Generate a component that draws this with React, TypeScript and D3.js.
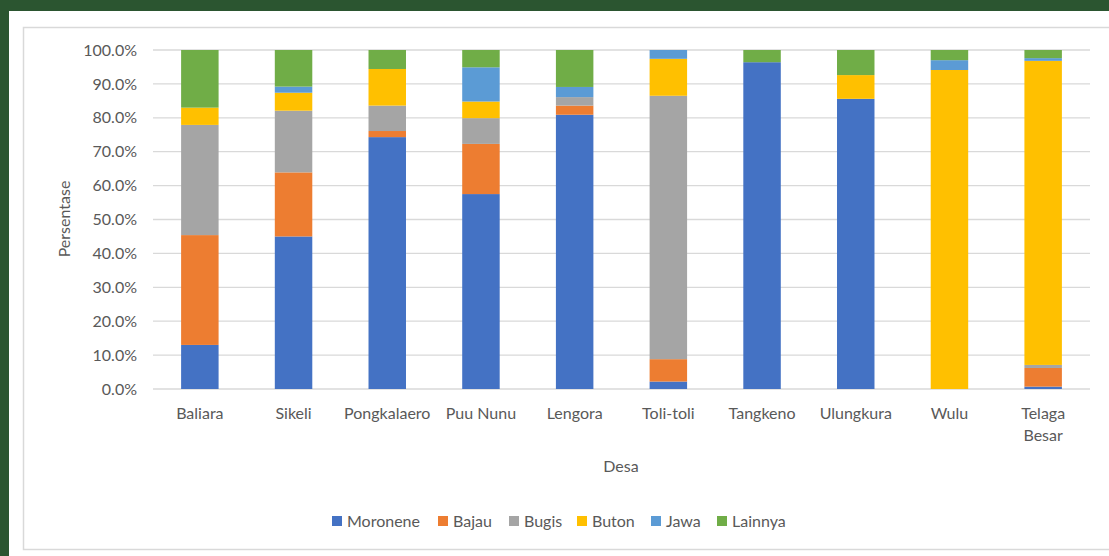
import * as d3 from "d3";
import React, { useEffect, useRef } from "react";

const desa = [
  "Baliara",
  "Sikeli",
  "Pongkalaero",
  "Puu Nunu",
  "Lengora",
  "Toli-toli",
  "Tangkeno",
  "Ulungkura",
  "Wulu",
  "Telaga Besar",
];

const suku = ["Moronene", "Bajau", "Bugis", "Buton", "Jawa", "Lainnya"];

// percentages per village
const moronene = [13.0, 45.0, 74.3, 57.5, 80.9, 2.2, 96.4, 85.6, 0.0, 0.7];
const bajau = [32.4, 18.9, 1.8, 14.8, 2.7, 6.6, 0.0, 0.0, 0.0, 5.5];
const bugis = [32.5, 18.2, 7.5, 7.6, 2.5, 77.7, 0.0, 0.0, 0.0, 0.9];
const buton = [5.1, 5.3, 10.8, 4.9, 0.0, 10.9, 0.0, 7.0, 94.1, 89.7];
const jawa = [0.0, 1.8, 0.0, 10.1, 3.0, 2.6, 0.0, 0.0, 2.9, 0.8];
const lainnya = [17.0, 10.8, 5.6, 5.1, 10.9, 0.0, 3.6, 7.4, 3.0, 2.4];

const yTicks = [0, 10, 20, 30, 40, 50, 60, 70, 80, 90, 100];

const colors = ["#4472C4", "#ED7D31", "#A5A5A5", "#FFC000", "#5B9BD5", "#70AD47"];

const W = 1109;
const H = 556;
const FONT = "Lato, 'Open Sans', sans-serif";

const App = () => {
  const svgRef = useRef<SVGSVGElement>(null);

  useEffect(() => {
    const svg = d3.select(svgRef.current);
    svg.selectAll("*").remove();

    const series = [moronene, bajau, bugis, buton, jawa, lainnya];
    const rows = desa.map((d, i) => {
      const r: any = { desa: d };
      suku.forEach((s, j) => (r[s] = series[j][i]));
      return r;
    });

    // background frame
    svg.append("rect").attr("width", W).attr("height", H).attr("fill", "#2b5530");
    svg.append("rect").attr("x", 9).attr("y", 11).attr("width", W).attr("height", H).attr("fill", "#fff");
    svg
      .append("rect")
      .attr("x", 23.5)
      .attr("y", 27.5)
      .attr("width", W)
      .attr("height", 522)
      .attr("fill", "none")
      .attr("stroke", "#d9d9d9")
      .attr("stroke-width", 1.5);

    const margin = { left: 153, right: 19, top: 50, bottom: 167 };
    const x = d3
      .scaleBand()
      .domain(desa)
      .range([margin.left, W - margin.right])
      .paddingInner(0.6)
      .paddingOuter(0.3);
    const y = d3.scaleLinear().domain([0, 100]).range([H - margin.bottom, margin.top]);

    // gridlines
    svg
      .append("g")
      .selectAll("line")
      .data(yTicks)
      .enter()
      .append("line")
      .attr("x1", margin.left)
      .attr("x2", W - margin.right)
      .attr("y1", (d) => y(d))
      .attr("y2", (d) => y(d))
      .attr("stroke", "#d9d9d9")
      .attr("stroke-width", 1.3);

    // y tick labels
    svg
      .append("g")
      .selectAll("text")
      .data(yTicks)
      .enter()
      .append("text")
      .attr("x", 137)
      .attr("y", (d) => y(d))
      .attr("dy", "0.35em")
      .attr("text-anchor", "end")
      .attr("font-family", FONT)
      .attr("font-size", 16)
      .attr("fill", "#595959")
      .text((d) => d.toFixed(1) + "%");

    const stack = d3.stack().keys(suku);
    const stacked = stack(rows);

    svg
      .append("g")
      .selectAll("g")
      .data(stacked)
      .enter()
      .append("g")
      .attr("fill", (_d, i) => colors[i])
      .selectAll("rect")
      .data((d) => d)
      .enter()
      .append("rect")
      .attr("x", (d: any) => x(d.data.desa)!)
      .attr("width", x.bandwidth())
      .attr("y", (d) => y(d[1]))
      .attr("height", (d) => y(d[0]) - y(d[1]));

    // category labels
    const cat = svg
      .append("g")
      .selectAll("text")
      .data(desa)
      .enter()
      .append("text")
      .attr("x", (d) => x(d)! + x.bandwidth() / 2)
      .attr("y", 419)
      .attr("text-anchor", "middle")
      .attr("font-family", FONT)
      .attr("font-size", 16)
      .attr("fill", "#595959");
    cat.each(function (d) {
      const parts = d === "Telaga Besar" ? ["Telaga", "Besar"] : [d];
      const t = d3.select(this);
      parts.forEach((p, i) =>
        t
          .append("tspan")
          .attr("x", x(d)! + x.bandwidth() / 2)
          .attr("dy", i === 0 ? 0 : 22)
          .text(p)
      );
    });

    // axis titles
    svg
      .append("text")
      .attr("x", 621)
      .attr("y", 472)
      .attr("text-anchor", "middle")
      .attr("font-family", FONT)
      .attr("font-size", 16)
      .attr("fill", "#595959")
      .text("Desa");
    svg
      .append("text")
      .attr("transform", `translate(70,219) rotate(-90)`)
      .attr("text-anchor", "middle")
      .attr("font-family", FONT)
      .attr("font-size", 16)
      .attr("fill", "#595959")
      .text("Persentase");

    // legend
    const legendX = [332, 438, 509, 577, 651, 717];
    const lg = svg
      .append("g")
      .selectAll("g")
      .data(suku)
      .enter()
      .append("g")
      .attr("transform", (_d, i) => `translate(${legendX[i]},521)`);
    lg.append("rect")
      .attr("y", -5)
      .attr("width", 10)
      .attr("height", 10)
      .attr("fill", (_d, i) => colors[i]);
    lg.append("text")
      .attr("x", 15)
      .attr("dy", "0.35em")
      .attr("font-family", FONT)
      .attr("font-size", 16)
      .attr("fill", "#595959")
      .text((d) => d);
  }, []);

  return (
    <svg
      ref={svgRef}
      width={W}
      height={H}
      style={{ position: "absolute", left: 0, top: 0 }}
    ></svg>
  );
};

export default App;
